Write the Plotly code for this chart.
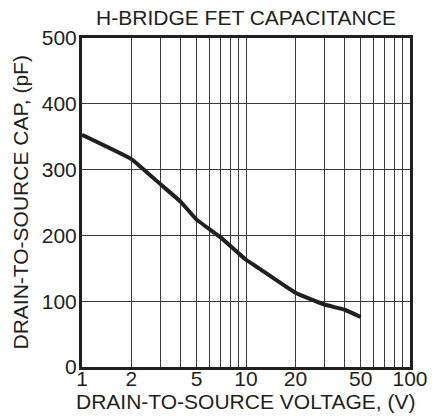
import plotly.graph_objects as go

voltage = [1, 2, 3, 4, 5, 7, 10, 12, 20, 30, 40, 50]
capacitance = [353, 316, 278, 251, 224, 197, 163, 150, 113, 95, 87, 76]

x_tickvals = [1, 2, 3, 4, 5, 6, 7, 8, 9, 10, 20, 30, 40, 50, 60, 70, 80, 90, 100]
x_ticktext = ["1", "2", "", "", "5", "", "", "", "", "10", "20", "", "", "50", "", "", "", "", "100"]
y_tickvals = [0, 100, 200, 300, 400, 500]

title_text = "H-BRIDGE FET CAPACITANCE"
x_title = "DRAIN-TO-SOURCE VOLTAGE, (V)"
y_title = "DRAIN-TO-SOURCE CAP, (pF)"

font_family = "Liberation Sans, Arial, Helvetica, sans-serif"
fs = 21

fig = go.Figure()
fig.add_trace(go.Scatter(
    x=voltage, y=capacitance, mode="lines",
    line=dict(color="#231f20", width=4, shape="spline", smoothing=0.3),
    showlegend=False, hoverinfo="skip",
))

fig.update_layout(
    width=432, height=419,
    margin=dict(l=82, r=22, t=38, b=52),
    paper_bgcolor="white", plot_bgcolor="white",
    font=dict(family=font_family, size=fs, color="#231f20"),
    title=dict(text=title_text, x=(82 + 410) / 2 / 432, xanchor="center",
               y=1 - 18 / 419, yanchor="middle", font=dict(size=fs)),
    annotations=[
        dict(text=x_title, xref="paper", yref="paper", x=0.5, y=0,
             xanchor="center", yanchor="middle", yshift=-34, showarrow=False,
             font=dict(size=fs)),
        dict(text=y_title, xref="paper", yref="paper", x=0, y=0.5,
             xanchor="center", yanchor="middle", xshift=-62, textangle=-90,
             showarrow=False, font=dict(size=fs)),
    ],
)
fig.update_xaxes(
    type="log", range=[0, 2],
    tickvals=x_tickvals, ticktext=x_ticktext,
    showgrid=True, gridcolor="#3a3a3a", gridwidth=1.2,
    showline=True, linecolor="#231f20", linewidth=3, mirror=True,
    ticks="", ticklabelstandoff=-9, automargin=False,
    zeroline=False,
)
fig.update_yaxes(
    range=[0, 500], tickvals=y_tickvals,
    showgrid=True, gridcolor="#3a3a3a", gridwidth=1.2,
    showline=True, linecolor="#231f20", linewidth=3, mirror=True,
    ticks="", ticklabelstandoff=-2, automargin=False,
    zeroline=False,
)

fig.write_html("out.html", config={"displayModeBar": False},
               post_script="document.body.style.margin='0';")
